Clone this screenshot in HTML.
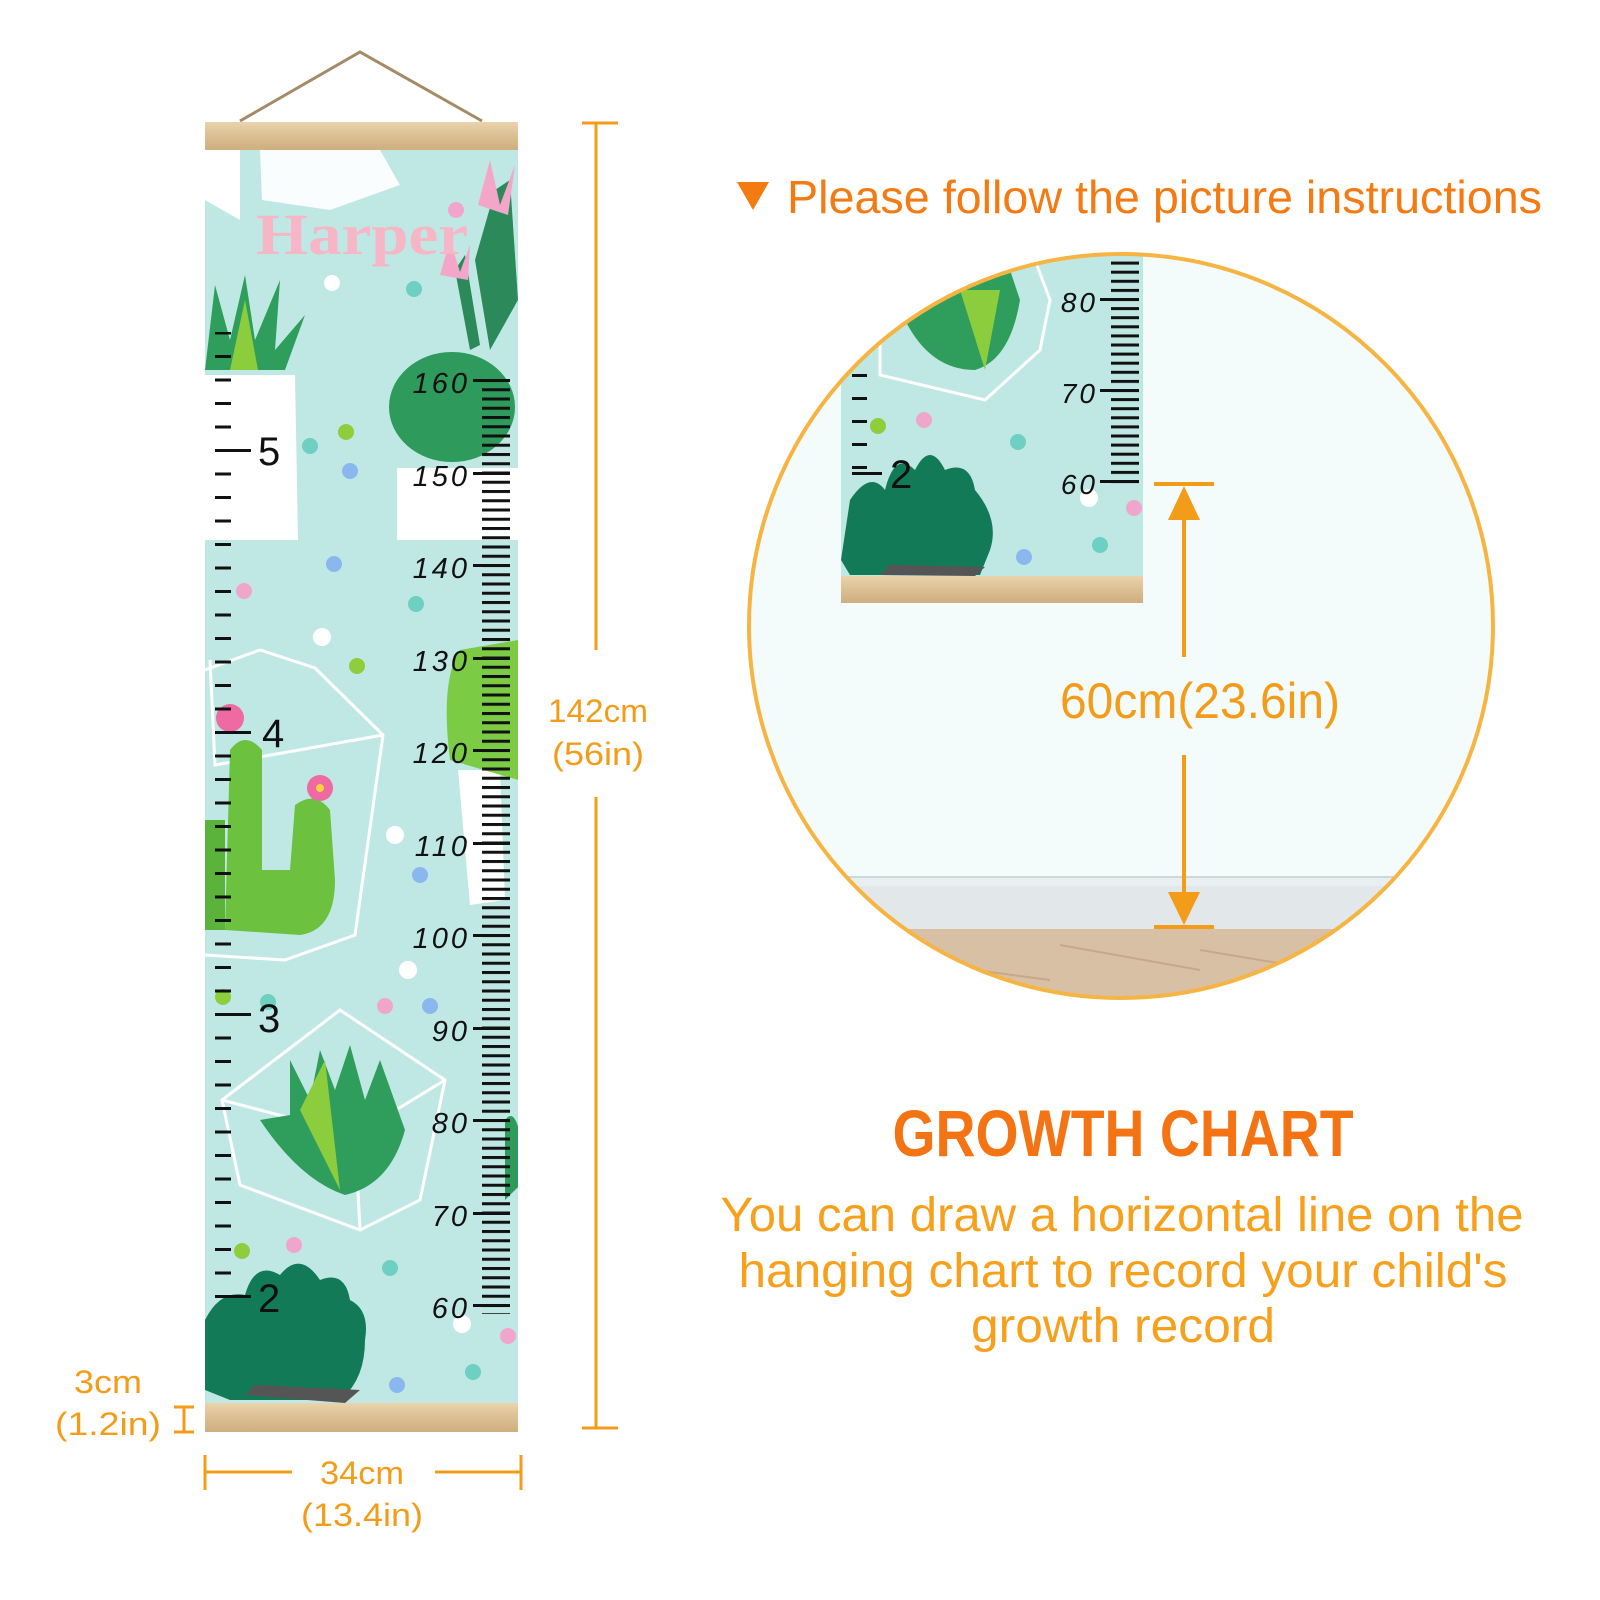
<!DOCTYPE html>
<html><head><meta charset="utf-8"><style>
html,body{margin:0;padding:0;background:#fff;}
svg{display:block;}
text{font-family:"Liberation Sans",sans-serif;}
</style></head><body>
<svg width="1600" height="1600" viewBox="0 0 1600 1600" xmlns="http://www.w3.org/2000/svg">
<defs>
  <pattern id="cmT" x="0" y="379" width="40" height="9.25" patternUnits="userSpaceOnUse">
    <rect x="0" y="0" width="40" height="3" fill="#111"/>
  </pattern>
  <pattern id="inT" x="0" y="449" width="40" height="23.5" patternUnits="userSpaceOnUse">
    <rect x="0" y="0" width="40" height="3" fill="#111"/>
  </pattern>
  <pattern id="cmT2" x="0" y="298" width="40" height="9.1" patternUnits="userSpaceOnUse">
    <rect x="0" y="0" width="40" height="3" fill="#111"/>
  </pattern>
  <pattern id="inT2" x="0" y="374" width="40" height="23" patternUnits="userSpaceOnUse">
    <rect x="0" y="0" width="40" height="3" fill="#111"/>
  </pattern>
  <linearGradient id="wood" x1="0" y1="0" x2="0" y2="1">
    <stop offset="0" stop-color="#ead3ad"/><stop offset="0.5" stop-color="#dcbf93"/><stop offset="1" stop-color="#cfae7f"/>
  </linearGradient>
  <clipPath id="circ"><circle cx="1121" cy="626" r="372"/></clipPath>
  <clipPath id="chart"><rect x="205" y="150" width="313" height="1253"/></clipPath>
  <clipPath id="chart2"><rect x="841" y="240" width="302" height="336"/></clipPath>
</defs>

<!-- string -->
<path d="M240 121 L360 52 L482 121" fill="none" stroke="#a58a68" stroke-width="3"/>

<!-- main chart -->
<rect x="205" y="150" width="313" height="1253" fill="#bfe8e4"/>
<g clip-path="url(#chart)">
  <polygon points="205,150 260,150 262,200 330,210 400,185 380,150 205,150" fill="#fff" opacity="0.9"/>
  <polygon points="205,150 240,150 240,220 205,200" fill="#fff"/>
  <polygon points="205,375 295,375 298,540 205,540" fill="#fff"/>
  <polygon points="397,468 518,468 518,540 397,540" fill="#fff"/>
  <polygon points="458,770 500,770 505,900 470,905" fill="#fff"/>
  <!-- aloe top-left -->
  <path d="M205 370 L215 285 L230 340 L245 275 L255 340 L280 280 L275 350 L305 315 L285 370 Z" fill="#2f9e5c"/>
  <path d="M230 370 L245 300 L258 370 Z" fill="#8ccd3e"/>
  <!-- round cactus -->
  <ellipse cx="452" cy="407" rx="63" ry="55" fill="#2e9a5c"/>
  <path d="M490 350 L475 260 L495 190 L510 180 L518 300 Z" fill="#2c8a5a"/>
  <path d="M470 350 L455 270 L465 255 L480 345 Z" fill="#2c8a5a"/>
  <path d="M478 205 L490 160 L500 205 L515 165 L508 215 Z" fill="#f3a6c8"/>
  <path d="M440 275 L450 240 L460 272 L470 245 L468 280 Z" fill="#f3a6c8"/>
  <!-- Harper -->
  <text x="362" y="254" style="font-family:'Liberation Serif',serif;font-weight:bold" font-size="58" fill="#f7b6c6" text-anchor="middle" textLength="212" lengthAdjust="spacingAndGlyphs">Harper</text>
  <!-- terrarium middle -->
  <path d="M205 670 L260 650 L315 668 L383 735 L355 935 L285 960 L205 955" fill="none" stroke="#fff" stroke-width="3"/>
  <path d="M210 660 L215 765 L383 735" fill="none" stroke="#fff" stroke-width="3"/>
  <!-- saguaro -->
  <path d="M225 930 L230 750 Q245 730 262 750 L262 870 L290 870 L295 805 Q315 790 330 810 L335 880 Q335 930 300 935 Z" fill="#6cc13f"/>
  <path d="M205 820 L225 820 L225 930 L205 930 Z" fill="#5bb33b"/>
  <circle cx="230" cy="718" r="14" fill="#ef6aa2"/>
  <circle cx="320" cy="788" r="13" fill="#ef6aa2"/>
  <circle cx="320" cy="788" r="4" fill="#ffd23b"/>
  <!-- right small cactus 130 -->
  <path d="M450 760 Q440 680 460 650 L518 640 L518 780 Z" fill="#7ccb45"/>
  <path d="M505 1120 Q520 1100 525 1180 L505 1200 Z" fill="#2e9a5c"/>
  <!-- bottom terrarium -->
  <path d="M222 1100 L340 1010 L445 1080 L420 1200 L360 1230 L240 1185 Z" fill="none" stroke="#fff" stroke-width="3"/>
  <path d="M222 1100 L355 1135 L445 1080 M355 1135 L360 1230" fill="none" stroke="#fff" stroke-width="3"/>
  <path d="M260 1120 Q300 1180 345 1195 Q390 1185 405 1130 L380 1060 L365 1100 L350 1045 L335 1090 L320 1050 L310 1100 L290 1060 L290 1115 Z" fill="#2f9e5c"/>
  <path d="M300 1110 L325 1060 L340 1190 Z" fill="#8ccd3e"/>
  <!-- bottom succulent -->
  <path d="M205 1390 L205 1320 Q220 1290 245 1295 Q255 1260 280 1275 Q300 1250 320 1280 Q345 1270 350 1300 Q370 1310 365 1340 Q365 1380 340 1400 L230 1400 Z" fill="#137a58"/>
  <path d="M245 1395 L255 1385 L360 1390 L345 1403 Z" fill="#555"/>
  <!-- dots -->
  <g>
    <circle cx="332" cy="283" r="8" fill="#fff"/><circle cx="414" cy="289" r="8" fill="#6ecfc3"/>
    <circle cx="456" cy="210" r="8" fill="#f0a6cc"/><circle cx="346" cy="432" r="8" fill="#8fcd3c"/>
    <circle cx="310" cy="446" r="8" fill="#6ecfc3"/><circle cx="350" cy="471" r="8" fill="#8ab8ee"/>
    <circle cx="334" cy="564" r="8" fill="#8ab8ee"/><circle cx="244" cy="591" r="8" fill="#f0a6cc"/>
    <circle cx="416" cy="604" r="8" fill="#6ecfc3"/><circle cx="322" cy="637" r="9" fill="#fff"/>
    <circle cx="357" cy="666" r="8" fill="#8fcd3c"/><circle cx="395" cy="835" r="9" fill="#fff"/>
    <circle cx="420" cy="875" r="8" fill="#8ab8ee"/><circle cx="408" cy="970" r="9" fill="#fff"/>
    <circle cx="385" cy="1006" r="8" fill="#f0a6cc"/><circle cx="430" cy="1006" r="8" fill="#8ab8ee"/>
    <circle cx="268" cy="1002" r="8" fill="#6ecfc3"/><circle cx="223" cy="997" r="8" fill="#8fcd3c"/>
    <circle cx="242" cy="1251" r="8" fill="#8fcd3c"/><circle cx="294" cy="1245" r="8" fill="#f0a6cc"/>
    <circle cx="390" cy="1268" r="8" fill="#6ecfc3"/><circle cx="462" cy="1324" r="9" fill="#fff"/>
    <circle cx="508" cy="1336" r="8" fill="#f0a6cc"/><circle cx="473" cy="1372" r="8" fill="#6ecfc3"/>
    <circle cx="397" cy="1385" r="8" fill="#8ab8ee"/>
  </g>
  <!-- cm ticks -->
  <rect x="482" y="379" width="28" height="935" fill="url(#cmT)"/>
  <g fill="#111">
    <rect x="473" y="379" width="37" height="3"/><rect x="473" y="472" width="37" height="3"/>
    <rect x="473" y="564" width="37" height="3"/><rect x="473" y="657" width="37" height="3"/>
    <rect x="473" y="749" width="37" height="3"/><rect x="473" y="842" width="37" height="3"/>
    <rect x="473" y="934" width="37" height="3"/><rect x="473" y="1027" width="37" height="3"/>
    <rect x="473" y="1119" width="37" height="3"/><rect x="473" y="1212" width="37" height="3"/>
    <rect x="473" y="1304" width="37" height="3"/>
  </g>
  <g font-size="29" fill="#111" text-anchor="end" font-style="italic" letter-spacing="3">
    <text x="470" y="393">160</text><text x="470" y="486">150</text><text x="470" y="578">140</text>
    <text x="470" y="671">130</text><text x="470" y="763">120</text><text x="470" y="856">110</text>
    <text x="470" y="948">100</text><text x="470" y="1041">90</text><text x="470" y="1133">80</text>
    <text x="470" y="1226">70</text><text x="470" y="1318">60</text>
  </g>
  <!-- inch ticks -->
  <rect x="215" y="332" width="16" height="970" fill="url(#inT)"/>
  <g fill="#111">
    <rect x="215" y="449" width="36" height="3"/><rect x="215" y="731" width="36" height="3"/>
    <rect x="215" y="1013" width="36" height="3"/><rect x="215" y="1295" width="36" height="3"/>
  </g>
  <g font-size="40" fill="#111">
    <text x="258" y="465">5</text><text x="262" y="747">4</text><text x="258" y="1032">3</text><text x="258" y="1312">2</text>
  </g>
</g>
<rect x="205" y="122" width="313" height="28" fill="url(#wood)"/>
<rect x="205" y="1403" width="313" height="29" fill="url(#wood)"/>

<!-- dimension 142cm -->
<g stroke="#f39c1a" stroke-width="3" fill="none">
  <path d="M582 123 H618 M596 123 V650 M596 797 V1428 M582 1428 H618"/>
  <path d="M205 1455 V1490 M205 1472 H292 M435 1472 H521 M521 1455 V1490"/>
  <path d="M174 1407 H194 M184 1407 V1432 M174 1432 H194"/>
</g>
<g font-size="32" fill="#f39c1a" text-anchor="middle">
  <text x="598" y="722" textLength="100" lengthAdjust="spacingAndGlyphs">142cm</text><text x="598" y="765" textLength="92" lengthAdjust="spacingAndGlyphs">(56in)</text>
  <text x="362" y="1484" textLength="84" lengthAdjust="spacingAndGlyphs">34cm</text><text x="362" y="1526" textLength="122" lengthAdjust="spacingAndGlyphs">(13.4in)</text>
  <text x="108" y="1393" textLength="68" lengthAdjust="spacingAndGlyphs">3cm</text><text x="108" y="1435" textLength="106" lengthAdjust="spacingAndGlyphs">(1.2in)</text>
</g>

<!-- header -->
<polygon points="737,182 769,182 753,210" fill="#f47a12"/>
<text x="787" y="213" font-size="46" fill="#f47a12" textLength="755" lengthAdjust="spacingAndGlyphs">Please follow the picture instructions</text>

<!-- circle -->
<circle cx="1121" cy="626" r="372" fill="#f4fbfb"/>
<g clip-path="url(#circ)">
  <rect x="740" y="876" width="780" height="10" fill="#e8eff0"/>
  <rect x="740" y="886" width="780" height="43" fill="#e2e7ea"/>
  <rect x="740" y="876" width="780" height="2" fill="#cdd8da"/>
  <rect x="740" y="929" width="780" height="80" fill="#d8c0a4"/>
  <path d="M760 945 L900 965 M900 960 L1050 980 M1060 945 L1200 970 M1200 950 L1350 975 M800 985 L950 1000 M1000 990 L1150 1005" stroke="#c7a889" stroke-width="2"/>
  <!-- inner chart -->
  <rect x="841" y="240" width="302" height="336" fill="#bfe8e4"/>
  <g clip-path="url(#chart2)">
    <path d="M880 330 L1035 260 L1050 300 L1040 350 L985 400 L880 375 Z" fill="none" stroke="#fff" stroke-width="3"/>
    <path d="M905 320 Q930 370 975 370 Q1010 360 1020 300 L1010 270 L905 300 Z" fill="#2f9e5c"/>
    <path d="M960 290 L985 370 L1000 290 Z" fill="#8ccd3e"/>
    <path d="M841 560 L850 500 Q870 470 885 490 Q895 450 915 470 Q930 440 945 470 Q970 460 975 490 Q1000 520 990 550 L980 575 L850 575 Z" fill="#137a58"/>
    <path d="M880 575 L890 565 L985 567 L975 576 Z" fill="#555"/>
    <circle cx="878" cy="426" r="8" fill="#8fcd3c"/><circle cx="924" cy="420" r="8" fill="#f0a6cc"/>
    <circle cx="1018" cy="442" r="8" fill="#6ecfc3"/><circle cx="1089" cy="498" r="9" fill="#fff"/>
    <circle cx="1134" cy="508" r="8" fill="#f0a6cc"/><circle cx="1100" cy="545" r="8" fill="#6ecfc3"/>
    <circle cx="1024" cy="557" r="8" fill="#8ab8ee"/>
    <rect x="1111" y="254" width="28" height="232" fill="url(#cmT2)"/>
    <g fill="#111"><rect x="1100" y="298" width="39" height="3"/><rect x="1100" y="389" width="39" height="3"/><rect x="1100" y="480" width="39" height="3"/></g>
    <g font-size="28" fill="#111" text-anchor="end" font-style="italic" letter-spacing="3">
      <text x="1098" y="312">80</text><text x="1098" y="403">70</text><text x="1098" y="494">60</text>
    </g>
    <rect x="852" y="374" width="15" height="100" fill="url(#inT2)"/>
    <rect x="852" y="472" width="30" height="3" fill="#111"/>
    <text x="890" y="488" font-size="40" fill="#111">2</text>
  </g>
  <rect x="841" y="576" width="302" height="27" fill="url(#wood)"/>
</g>
<circle cx="1121" cy="626" r="372" fill="none" stroke="#f6b443" stroke-width="4"/>

<!-- 60cm arrow -->
<g stroke="#f39c1a" stroke-width="4" fill="none">
  <path d="M1154 484 H1214 M1154 927 H1214"/>
  <path d="M1184 515 V657 M1184 755 V895"/>
</g>
<polygon points="1184,486 1168,520 1200,520" fill="#f39c1a"/>
<polygon points="1184,925 1168,892 1200,892" fill="#f39c1a"/>
<text x="1200" y="718" font-size="50" fill="#f39c1a" text-anchor="middle" textLength="280" lengthAdjust="spacingAndGlyphs">60cm(23.6in)</text>

<!-- growth chart text -->
<text x="1123" y="1156" font-size="66" font-weight="bold" fill="#f47312" text-anchor="middle" textLength="461" lengthAdjust="spacingAndGlyphs">GROWTH CHART</text>
<g font-size="48" fill="#f7a01c" text-anchor="middle">
  <text x="1122" y="1231" textLength="803" lengthAdjust="spacingAndGlyphs">You can draw a horizontal line on the</text>
  <text x="1123" y="1287" textLength="769" lengthAdjust="spacingAndGlyphs">hanging chart to record your child's</text>
  <text x="1123" y="1342" textLength="304" lengthAdjust="spacingAndGlyphs">growth record</text>
</g>
</svg>
</body></html>
